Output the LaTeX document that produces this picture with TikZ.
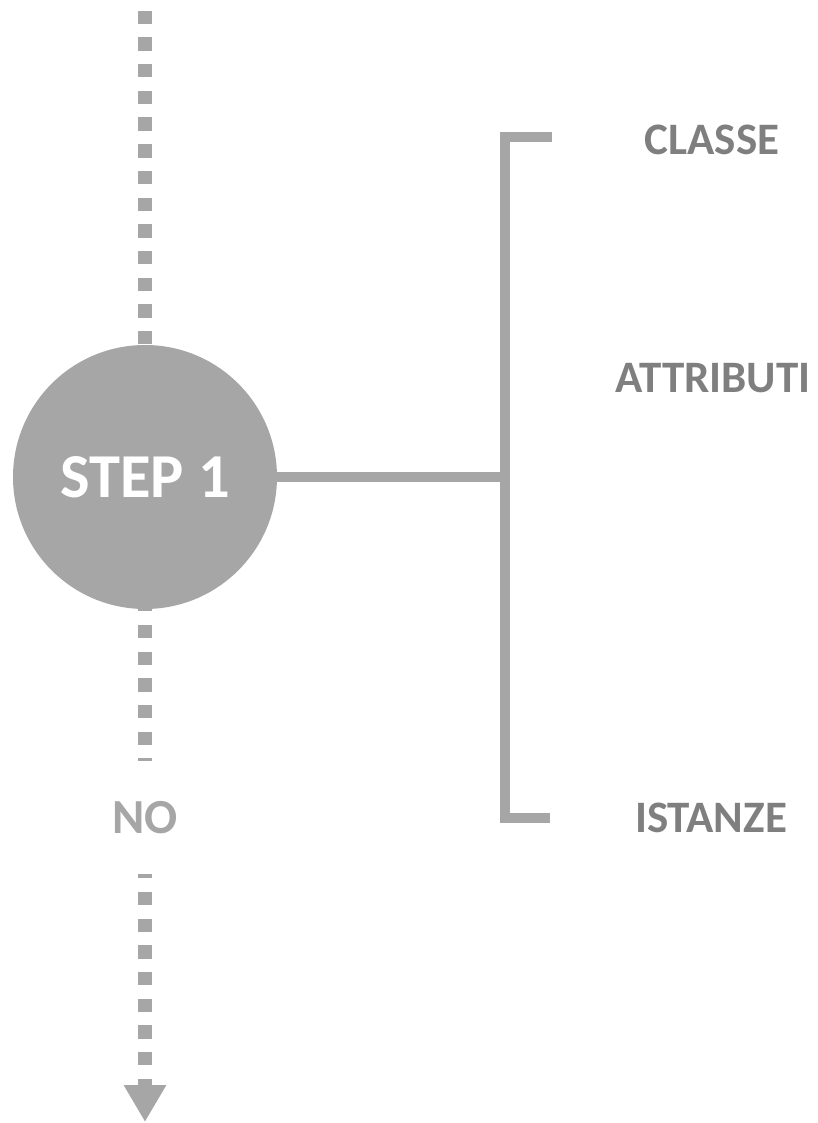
\documentclass[tikz,border=0pt]{standalone}
\usepackage{fontspec}
\setmainfont{Carlito}
\usetikzlibrary{arrows.meta,backgrounds}

\definecolor{linegray}{HTML}{A6A6A6}
\definecolor{textgray}{HTML}{7F7F7F}

\begin{document}
\begin{tikzpicture}[x = 1pt, y = -1pt, > = latex]

	% Definitions

	\tikzset{
		flow/.style = {draw = linegray, line width = 14pt, dash pattern = on 13.35pt off 13.35pt, dash phase = 16pt},
		bar/.style = {draw = linegray, line width = 10pt},
		label/.style = {text = textgray, inner sep = 0pt, font = \bfseries\fontsize{45}{54}\selectfont}
	}

	\useasboundingbox (0, 0) rectangle (818, 1123);

	% Step circle and answer

	\node [circle, fill = linegray, minimum size = 264pt, inner sep = 0pt, text = white,
		font = \bfseries\fontsize{62.5}{70}\selectfont] (step) at (145, 477) {STEP 1};
	\node [fill = white, minimum height = 113pt, minimum width = 80pt, inner sep = 0pt, text = linegray,
		font = \bfseries\fontsize{49}{58}\selectfont] (no) at (145, 817.5) {NO};

	% Flow line, behind everything

	\coordinate (src) at (145, 0);
	\coordinate (sink) at (145, 1122);
	\begin{scope}[on background layer]
		\draw [flow, -{Triangle[width = 40pt, length = 37pt]}] (src) -- (sink);
	\end{scope}

	% Bracket

	\coordinate (fork) at (504.5, 477);
	\draw [bar] (step.east) -- (fork);
	\draw [bar] (552, 137) -- (504.5, 137) -- (504.5, 818) -- (550, 818);

	% Labels

	\node [label] (classe) at (712, 140) {CLASSE};
	\node [label] (attributi) at (713, 378) {ATTRIBUTI};
	\node [label] (istanze) at (711, 818) {ISTANZE};

\end{tikzpicture}
\end{document}
